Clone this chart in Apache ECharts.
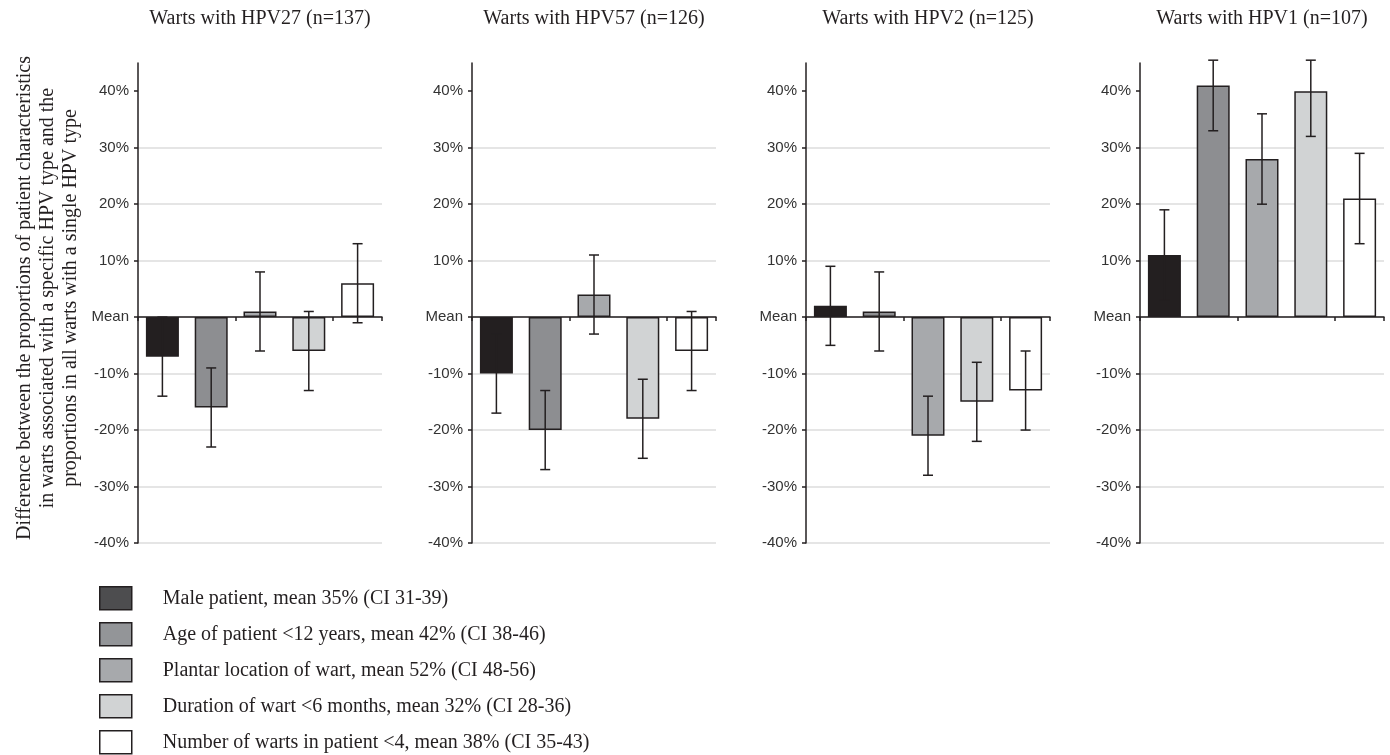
<!DOCTYPE html>
<html>
<head>
<meta charset="utf-8">
<script src="https://cdn.jsdelivr.net/npm/echarts@6/dist/echarts.min.js"></script>
<style>
html,body{margin:0;padding:0;background:#fff;}
#chart{width:1390px;height:755px;}
</style>
</head>
<body>
<div id="chart"></div>
<script>
// ---- data ----
const panelTitles = ['Warts with HPV27 (n=137)', 'Warts with HPV57 (n=126)', 'Warts with HPV2 (n=125)', 'Warts with HPV1 (n=107)'];
const categories = ['Male', 'Age<12', 'Plantar', 'Duration<6m', 'Warts<4'];
const legendNames = [
  'Male patient, mean 35% (CI 31-39)',
  'Age of patient <12 years, mean 42% (CI 38-46)',
  'Plantar location of wart, mean 52% (CI 48-56)',
  'Duration of wart <6 months, mean 32% (CI 28-36)',
  'Number of warts in patient <4, mean 38% (CI 35-43)'
];
const yTickValues = [-40, -30, -20, -10, 0, 10, 20, 30, 40];

const hpv27Values = [-7, -16, 1, -6, 6];
const hpv27Low    = [-14, -23, -6, -13, -1];
const hpv27High   = [0, -9, 8, 1, 13];

const hpv57Values = [-10, -20, 4, -18, -6];
const hpv57Low    = [-17, -27, -3, -25, -13];
const hpv57High   = [-3, -13, 11, -11, 1];

const hpv2Values  = [2, 1, -21, -15, -13];
const hpv2Low     = [-5, -6, -28, -22, -20];
const hpv2High    = [9, 8, -14, -8, -6];

const hpv1Values  = [11, 41, 28, 40, 21];
const hpv1Low     = [3, 33, 20, 32, 13];
const hpv1High    = [19, 45.5, 36, 45.5, 29];

const panelValues = [hpv27Values, hpv57Values, hpv2Values, hpv1Values];
const panelLow = [hpv27Low, hpv57Low, hpv2Low, hpv1Low];
const panelHigh = [hpv27High, hpv57High, hpv2High, hpv1High];

// ---- styles ----
const barColors = ['#231f20', '#8d8e91', '#a7a9ac', '#d1d3d4', '#ffffff'];
const legendColors = ['#4d4d4f', '#939598', '#a7a9ac', '#d1d3d4', '#ffffff'];
const ink = '#231f20';
const gridLefts = [138, 472, 806, 1140];
const gridWidth = 244;

const grids = [], xAxes = [], yAxes = [], series = [], titles = [];
panelTitles.forEach((t, p) => {
  grids.push({left: gridLefts[p], width: gridWidth, top: 63, height: 480, containLabel: false});
  titles.push({
    text: t, left: gridLefts[p] + gridWidth / 2, top: 9, textAlign: 'center', padding: 0,
    textStyle: {fontFamily: 'Liberation Serif', fontSize: 20, fontWeight: 'normal', color: ink}
  });
  xAxes.push({
    type: 'category', gridIndex: p, data: categories, boundaryGap: true,
    axisLine: {show: true, onZero: true, lineStyle: {color: ink, width: 1.5}},
    axisTick: {show: true, length: 4, inside: false, lineStyle: {color: ink, width: 1.5}},
    axisLabel: {show: false}, splitLine: {show: false}
  });
  yAxes.push({
    type: 'value', gridIndex: p, min: -40, max: 45, interval: 10,
    axisLine: {show: true, lineStyle: {color: ink, width: 1.5}},
    axisTick: {show: true, length: 4, lineStyle: {color: ink, width: 1.5}, customValues: yTickValues},
    axisLabel: {
      show: true, margin: 9, showMaxLabel: false,
      fontFamily: 'Liberation Sans', fontSize: 15, color: '#333',
      formatter: v => v === 0 ? 'Mean' : v + '%'
    },
    splitLine: {show: true, showMaxLine: false, lineStyle: {color: '#dcdcdc', width: 1.5}}
  });
  const vals = panelValues[p];
  categories.forEach((c, k) => {
    series.push({
      type: 'bar', name: legendNames[k], xAxisIndex: p, yAxisIndex: p,
      barWidth: 33, barGap: '-100%',
      data: vals.map((v, i) => i === k ? v : '-'),
      itemStyle: {color: barColors[k], borderColor: ink, borderWidth: 1.5},
      emphasis: {disabled: true}, z: 2
    });
  });
  series.push({
    type: 'custom', xAxisIndex: p, yAxisIndex: p, z: 10, silent: true, clip: false,
    data: panelLow[p].map((lo, i) => [i, lo, panelHigh[p][i]]),
    encode: {x: 0, y: [1, 2]},
    renderItem: (params, api) => {
      const i = api.value(0);
      const a = api.coord([i, api.value(1)]);
      const b = api.coord([i, api.value(2)]);
      const half = 5;
      const st = {stroke: ink, lineWidth: 1.5};
      return {
        type: 'group',
        children: [
          {type: 'line', shape: {x1: a[0], y1: a[1], x2: b[0], y2: b[1]}, style: st},
          {type: 'line', shape: {x1: a[0] - half, y1: a[1], x2: a[0] + half, y2: a[1]}, style: st},
          {type: 'line', shape: {x1: b[0] - half, y1: b[1], x2: b[0] + half, y2: b[1]}, style: st}
        ]
      };
    }
  });
});

const chart = echarts.init(document.getElementById('chart'), null, {renderer: 'canvas'});
chart.setOption({
  backgroundColor: '#ffffff',
  animation: false,
  title: titles,
  grid: grids,
  xAxis: xAxes,
  yAxis: yAxes,
  series: series,
  legend: {
    orient: 'vertical', left: 99, top: 586, height: 260, width: 700, padding: 0,
    itemWidth: 32, itemHeight: 23, itemGap: 11.5,
    selectedMode: false,
    textStyle: {fontFamily: 'Liberation Serif', fontSize: 20, lineHeight: 23, color: ink, padding: [0, 0, 0, 26]},
    data: legendNames.map((n, i) => ({
      name: n, icon: 'rect',
      itemStyle: {color: legendColors[i], borderColor: ink, borderWidth: 1.5}
    }))
  },
  graphic: [{
    type: 'text', x: 48, y: 298, rotation: Math.PI / 2,
    style: {
      text: 'Difference between the proportions of patient characteristics\nin warts associated with a specific HPV type and the\nproportions in all warts with a single HPV type',
      fontFamily: 'Liberation Serif', fontSize: 20, fill: ink, lineHeight: 23,
      textAlign: 'center', textVerticalAlign: 'middle', align: 'center', verticalAlign: 'middle'
    }
  }]
});
</script>
</body>
</html>
